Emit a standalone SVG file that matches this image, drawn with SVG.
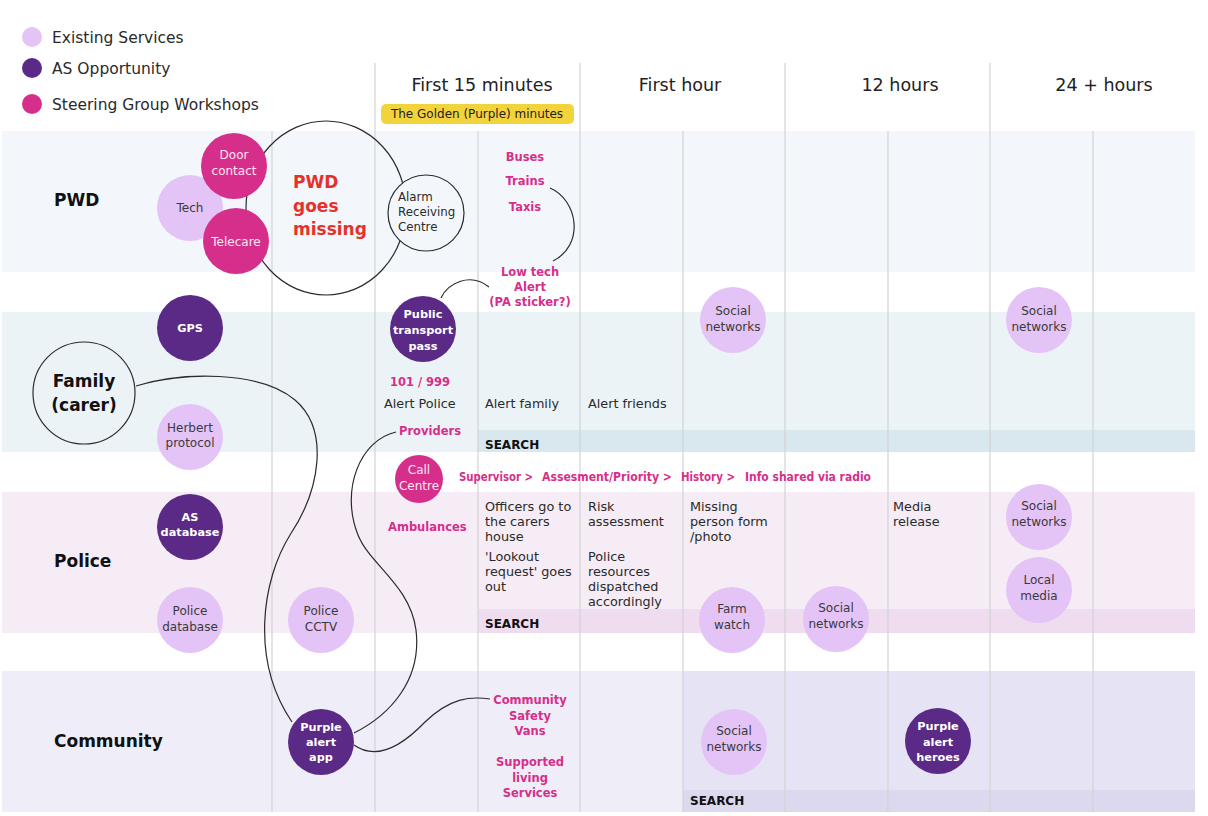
<svg xmlns="http://www.w3.org/2000/svg" width="1208" height="816" viewBox="0 0 1208 816">
<style>
text{font-family:"DejaVu Sans","Noto Sans",sans-serif}
.grid{stroke:#d3d3d3;stroke-width:1.2}
.conn{fill:none;stroke:#2b2b2b;stroke-width:1.2}
.light{fill:#e4c3f6}
.dark{fill:#5a2a86}
.mag{fill:#d62f8b}
.outline{fill:none;stroke:#2b2b2b;stroke-width:1.2}
.lt{font-size:12px;fill:#3a3a3a;text-anchor:middle}
.dt{font-size:11.3px;font-weight:bold;fill:#ffffff;text-anchor:middle}
.mt{font-size:12px;fill:#fde6f2;text-anchor:middle}
.body{font-size:12.8px;fill:#2a2a2a}
.pink{font-size:11.5px;font-weight:bold;fill:#d62f8b}
.pinkc{font-size:11.5px;font-weight:bold;fill:#d62f8b;text-anchor:middle}
.lbl{font-size:17px;font-weight:bold;fill:#111}
.hdr{font-size:17.5px;fill:#222;text-anchor:middle}
.leg{font-size:15.5px;fill:#2a2a2a}
.search{font-size:12px;font-weight:bold;fill:#111}
</style>

<!-- bands -->
<g id="bands">
  <rect x="2" y="131" width="1193" height="141" fill="#f3f7fc"/>
  <rect x="2" y="312" width="1193" height="140" fill="#ecf3f7"/>
  <rect x="478" y="430" width="717" height="22" fill="#d9e7ee"/>
  <rect x="2" y="492" width="1193" height="141" fill="#f6ecf5"/>
  <rect x="478" y="609" width="717" height="24" fill="#efdcee"/>
  <rect x="2" y="671" width="1193" height="141" fill="#efeef8"/>
  <rect x="683" y="671" width="512" height="141" fill="#e5e3f4"/>
  <rect x="683" y="790" width="512" height="22" fill="#dcd8ee"/>
</g>

<!-- grid -->
<g id="grid">
  <line class="grid" x1="272" y1="131" x2="272" y2="812"/>
  <line class="grid" x1="375" y1="63" x2="375" y2="812"/>
  <line class="grid" x1="478" y1="131" x2="478" y2="812"/>
  <line class="grid" x1="580" y1="63" x2="580" y2="812"/>
  <line class="grid" x1="683" y1="131" x2="683" y2="812"/>
  <line class="grid" x1="785" y1="63" x2="785" y2="812"/>
  <line class="grid" x1="888" y1="131" x2="888" y2="812"/>
  <line class="grid" x1="990" y1="63" x2="990" y2="812"/>
  <line class="grid" x1="1093" y1="131" x2="1093" y2="812"/>
</g>

<!-- legend -->
<g id="legend">
  <circle class="light" cx="32" cy="37" r="10"/>
  <text class="leg" x="52" y="42.5">Existing Services</text>
  <circle class="dark" cx="32" cy="68" r="10"/>
  <text class="leg" x="52" y="73.5">AS Opportunity</text>
  <circle class="mag" cx="32" cy="104" r="10"/>
  <text class="leg" x="52" y="109.5">Steering Group Workshops</text>
</g>

<!-- headers -->
<g id="headers">
  <text class="hdr" x="482" y="91">First 15 minutes</text>
  <rect x="381" y="104" width="193" height="20" rx="5" fill="#f3d33b"/>
  <text x="477" y="118" font-size="12" fill="#222" text-anchor="middle">The Golden (Purple) minutes</text>
  <text class="hdr" x="680" y="91">First hour</text>
  <text class="hdr" x="900" y="91">12 hours</text>
  <text class="hdr" x="1104" y="91">24 + hours</text>
</g>

<!-- row labels -->
<g id="labels">
  <text class="lbl" x="54" y="206">PWD</text>
  <text class="lbl" x="54" y="567">Police</text>
  <text class="lbl" x="54" y="747">Community</text>
</g>

<!-- connectors -->
<g id="connectors">
  <path class="conn" d="M 136 386 C 180 372, 260 370, 295 400 C 330 430, 320 490, 290 535 C 262 580, 250 660, 292 722"/>
  <path class="conn" d="M 396 432 C 360 440, 340 490, 358 535 C 370 565, 410 585, 416 630 C 422 680, 390 715, 354 733"/>
  <path class="conn" d="M 354 745 C 375 760, 400 748, 425 722 C 450 698, 470 696, 490 699"/>
  <path class="conn" d="M 441 298 C 448 283, 470 272, 489 287"/>
  <path class="conn" d="M 550 188 C 578 200, 585 245, 553 261"/>
</g>

<!-- PWD row -->
<g id="pwd-missing">
  <ellipse class="outline" cx="326" cy="208" rx="80" ry="87"/>
  <text x="293" y="188" font-size="17" font-weight="bold" fill="#e4322b">PWD</text>
  <text x="293" y="212" font-size="17" font-weight="bold" fill="#e4322b">goes</text>
  <text x="293" y="235" font-size="17" font-weight="bold" fill="#e4322b">missing</text>
</g>
<g id="tech">
  <circle class="light" cx="190" cy="208" r="33"/>
  <text class="lt" x="190" y="212">Tech</text>
</g>
<g id="door-contact">
  <circle class="mag" cx="234" cy="166" r="33"/>
  <text class="mt" x="234" y="159">Door</text>
  <text class="mt" x="234" y="175">contact</text>
</g>
<g id="telecare">
  <circle class="mag" cx="236" cy="241" r="33"/>
  <text class="mt" x="236" y="246">Telecare</text>
</g>
<g id="arc">
  <circle fill="#f3f7fc" stroke="#2b2b2b" stroke-width="1.2" cx="426" cy="213" r="38"/>
  <text x="398" y="201" font-size="11.8" fill="#2a2a2a">Alarm</text>
  <text x="398" y="216" font-size="11.8" fill="#2a2a2a">Receiving</text>
  <text x="398" y="231" font-size="11.8" fill="#2a2a2a">Centre</text>
</g>
<g id="transport">
  <text class="pinkc" x="525" y="161">Buses</text>
  <text class="pinkc" x="525" y="185">Trains</text>
  <text class="pinkc" x="525" y="211">Taxis</text>
</g>
<g id="low-tech">
  <text class="pinkc" x="530" y="276">Low tech</text>
  <text class="pinkc" x="530" y="291">Alert</text>
  <text class="pinkc" x="530" y="306">(PA sticker?)</text>
</g>

<!-- Family row -->
<g id="family">
  <circle fill="none" stroke="#2b2b2b" stroke-width="1.2" cx="84" cy="393" r="51"/>
  <text class="lbl" x="84" y="387" text-anchor="middle">Family</text>
  <text class="lbl" x="84" y="411" text-anchor="middle">(carer)</text>
</g>
<g id="gps">
  <circle class="dark" cx="190" cy="328" r="33"/>
  <text class="dt" x="190" y="332">GPS</text>
</g>
<g id="herbert">
  <circle class="light" cx="190" cy="437" r="33"/>
  <text class="lt" x="190" y="432">Herbert</text>
  <text class="lt" x="190" y="447">protocol</text>
</g>
<g id="public-transport-pass">
  <circle class="dark" cx="423" cy="329" r="33"/>
  <text class="dt" x="423" y="318">Public</text>
  <text class="dt" x="423" y="334">transport</text>
  <text class="dt" x="423" y="350">pass</text>
</g>
<g id="alerts">
  <text class="pinkc" x="420" y="386">101 / 999</text>
  <text class="body" x="384" y="408">Alert Police</text>
  <text class="body" x="485" y="408">Alert family</text>
  <text class="body" x="588" y="408">Alert friends</text>
  <text class="pink" x="399" y="435">Providers</text>
  <text class="search" x="485" y="449">SEARCH</text>
</g>
<g id="social-1h">
  <circle class="light" cx="733" cy="320" r="33"/>
  <text class="lt" x="733" y="315">Social</text>
  <text class="lt" x="733" y="331">networks</text>
</g>
<g id="social-24h">
  <circle class="light" cx="1039" cy="320" r="33"/>
  <text class="lt" x="1039" y="315">Social</text>
  <text class="lt" x="1039" y="331">networks</text>
</g>

<!-- call centre -->
<g id="call-centre">
  <circle class="mag" cx="419" cy="479" r="24"/>
  <text class="mt" x="419" y="474">Call</text>
  <text class="mt" x="419" y="490">Centre</text>
</g>
<g id="call-flow">
  <text class="pink" x="459" y="481" textLength="74" lengthAdjust="spacingAndGlyphs">Supervisor &gt;</text>
  <text class="pink" x="542" y="481" textLength="130" lengthAdjust="spacingAndGlyphs">Assesment/Priority &gt;</text>
  <text class="pink" x="681" y="481" textLength="54" lengthAdjust="spacingAndGlyphs">History &gt;</text>
  <text class="pink" x="745" y="481" textLength="126" lengthAdjust="spacingAndGlyphs">Info shared via radio</text>
</g>

<!-- Police row -->
<g id="as-database">
  <circle class="dark" cx="190" cy="527" r="33"/>
  <text class="dt" x="190" y="521">AS</text>
  <text class="dt" x="190" y="536">database</text>
</g>
<g id="police-database">
  <circle class="light" cx="190" cy="620" r="33"/>
  <text class="lt" x="190" y="615">Police</text>
  <text class="lt" x="190" y="631">database</text>
</g>
<g id="police-cctv">
  <circle class="light" cx="321" cy="620" r="33"/>
  <text class="lt" x="321" y="615">Police</text>
  <text class="lt" x="321" y="631">CCTV</text>
</g>
<g id="police-actions">
  <text class="pink" x="388" y="531">Ambulances</text>
  <text class="body" x="485" y="511">Officers go to</text>
  <text class="body" x="485" y="526">the carers</text>
  <text class="body" x="485" y="541">house</text>
  <text class="body" x="485" y="561">'Lookout</text>
  <text class="body" x="485" y="576">request' goes</text>
  <text class="body" x="485" y="591">out</text>
  <text class="body" x="588" y="511">Risk</text>
  <text class="body" x="588" y="526">assessment</text>
  <text class="body" x="588" y="561">Police</text>
  <text class="body" x="588" y="576">resources</text>
  <text class="body" x="588" y="591">dispatched</text>
  <text class="body" x="588" y="606">accordingly</text>
  <text class="body" x="690" y="511">Missing</text>
  <text class="body" x="690" y="526">person form</text>
  <text class="body" x="690" y="541">/photo</text>
  <text class="body" x="893" y="511">Media</text>
  <text class="body" x="893" y="526">release</text>
  <text class="search" x="485" y="628">SEARCH</text>
</g>
<g id="farm-watch">
  <circle class="light" cx="732" cy="620" r="33"/>
  <text class="lt" x="732" y="613">Farm</text>
  <text class="lt" x="732" y="629">watch</text>
</g>
<g id="social-12h">
  <circle class="light" cx="836" cy="619" r="33"/>
  <text class="lt" x="836" y="612">Social</text>
  <text class="lt" x="836" y="628">networks</text>
</g>
<g id="social-24h-police">
  <circle class="light" cx="1039" cy="517" r="33"/>
  <text class="lt" x="1039" y="510">Social</text>
  <text class="lt" x="1039" y="526">networks</text>
</g>
<g id="local-media">
  <circle class="light" cx="1039" cy="590" r="33"/>
  <text class="lt" x="1039" y="584">Local</text>
  <text class="lt" x="1039" y="600">media</text>
</g>

<!-- Community row -->
<g id="purple-alert-app">
  <circle class="dark" cx="321" cy="742" r="33"/>
  <text class="dt" x="321" y="731">Purple</text>
  <text class="dt" x="321" y="746">alert</text>
  <text class="dt" x="321" y="761">app</text>
</g>
<g id="community-services">
  <text class="pinkc" x="530" y="704">Community</text>
  <text class="pinkc" x="530" y="720">Safety</text>
  <text class="pinkc" x="530" y="735">Vans</text>
  <text class="pinkc" x="530" y="766">Supported</text>
  <text class="pinkc" x="530" y="782">living</text>
  <text class="pinkc" x="530" y="797">Services</text>
</g>
<g id="social-community">
  <circle class="light" cx="734" cy="742" r="33"/>
  <text class="lt" x="734" y="735">Social</text>
  <text class="lt" x="734" y="751">networks</text>
</g>
<g id="purple-alert-heroes">
  <circle class="dark" cx="938" cy="741" r="33"/>
  <text class="dt" x="938" y="730">Purple</text>
  <text class="dt" x="938" y="746">alert</text>
  <text class="dt" x="938" y="761">heroes</text>
</g>
<g id="community-search">
  <text class="search" x="690" y="805">SEARCH</text>
</g>
</svg>
